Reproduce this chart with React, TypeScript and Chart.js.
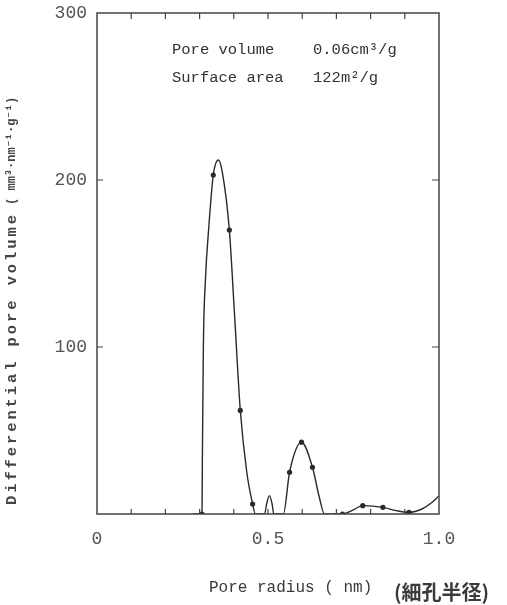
import React, { useEffect, useRef } from "react";
import { Chart, registerables } from "chart.js";

Chart.register(...registerables);

const poreRadius = [0.28, 0.307, 0.308, 0.311, 0.317, 0.327, 0.34, 0.355, 0.367, 0.387, 0.402, 0.419, 0.438, 0.455, 0.463, 0.49, 0.496, 0.504, 0.512, 0.517, 0.545, 0.563, 0.598, 0.63, 0.65, 0.665, 0.718, 0.745, 0.777, 0.836, 0.875, 0.912, 0.95, 0.98, 1.0];
const poreVolume = [0, 0, 30, 100, 140, 172, 203, 212, 204, 170, 120, 62, 25, 6, 0, 0, 6, 11, 6, 0, 0, 25, 43, 28, 10, 0, 0, 2, 5, 4, 2, 1, 3, 7, 11];
const isMarked = [0, 1, 0, 0, 0, 0, 1, 0, 0, 1, 0, 1, 0, 1, 0, 0, 0, 0, 0, 0, 0, 1, 1, 1, 0, 0, 1, 0, 1, 1, 0, 1, 0, 0, 0];

const xTickLabels = ["0", "0.5", "1.0"];
const yTickLabels = ["100", "200", "300"];
const infoLabels = ["Pore volume", "Surface area"];
const infoValues = ["0.06cm³/g", "122m²/g"];
const xTitle = "Pore radius ( nm)";
const xTitleJa = "(細孔半径)";
const yTitleMain = "Differential pore volume";
const yTitleUnit = " ( mm³·nm⁻¹·g⁻¹)";

const MONO = '"Liberation Mono", "DejaVu Sans Mono", monospace';
const INK = "#2a2a2a";

const framePlugin = {
  id: "frame",
  afterDraw(chart: any) {
    const { ctx, chartArea: a, scales } = chart;
    const xs = scales.x;
    const ys = scales.y;
    ctx.save();
    ctx.strokeStyle = "#444";
    ctx.lineWidth = 1.5;
    ctx.strokeRect(a.left, a.top, a.right - a.left, a.bottom - a.top);
    ctx.lineWidth = 1.2;
    for (let i = 1; i < 10; i++) {
      const px = xs.getPixelForValue(i / 10);
      ctx.beginPath();
      ctx.moveTo(px, a.bottom);
      ctx.lineTo(px, a.bottom - 5);
      ctx.moveTo(px, a.top);
      ctx.lineTo(px, a.top + 6);
      ctx.stroke();
    }
    [100, 200].forEach((v) => {
      const py = ys.getPixelForValue(v);
      ctx.beginPath();
      ctx.moveTo(a.left, py);
      ctx.lineTo(a.left + 6, py);
      ctx.moveTo(a.right, py);
      ctx.lineTo(a.right - 7, py);
      ctx.stroke();
    });
    ctx.fillStyle = "#333";
    ctx.font = `15.5px ${MONO}`;
    ctx.textBaseline = "middle";
    ctx.textAlign = "left";
    infoLabels.forEach((t, i) => {
      ctx.fillText(t, 172, 50 + i * 28);
      ctx.fillText(infoValues[i], 313, 50 + i * 28);
    });
    ctx.fillStyle = "#3a3a3a";
    ctx.font = `16px ${MONO}`;
    ctx.fillText(xTitle, 209, 588);
    ctx.font = `bold 20px "Noto Sans CJK JP", sans-serif`;
    ctx.fillText(xTitleJa, 394, 592);
    ctx.save();
    ctx.translate(12, 505);
    ctx.rotate(-Math.PI / 2);
    ctx.textAlign = "left";
    ctx.fillStyle = "#444";
    ctx.font = `bold 15.5px ${MONO}`;
    (ctx as any).letterSpacing = "2.9px";
    ctx.fillText(yTitleMain, 0, 0);
    const w = ctx.measureText(yTitleMain).width;
    ctx.font = `bold 12px ${MONO}`;
    (ctx as any).letterSpacing = "0px";
    ctx.fillText(yTitleUnit, w, 0);
    ctx.restore();
    ctx.restore();
  },
};

export default function App() {
  const ref = useRef<HTMLCanvasElement | null>(null);
  useEffect(() => {
    if (!ref.current) return;
    const chart = new Chart(ref.current, {
      type: "line",
      data: {
        datasets: [
          {
            data: poreRadius.map((x, i) => ({ x, y: poreVolume[i] })),
            borderColor: INK,
            borderWidth: 1.4,
            pointRadius: isMarked.map((m) => (m ? 2.6 : 0)),
            pointBackgroundColor: INK,
            pointBorderColor: INK,
            pointBorderWidth: 0,
            cubicInterpolationMode: "monotone",
            fill: false,
          },
        ],
      },
      options: {
        animation: false,
        responsive: false,
        maintainAspectRatio: false,
        plugins: { legend: { display: false }, tooltip: { enabled: false } },
        layout: { padding: { top: 13, right: 68, left: 0, bottom: 0 } },
        scales: {
          x: {
            type: "linear",
            min: 0,
            max: 1,
            grid: { display: false },
            border: { display: false },
            afterFit: (s: any) => {
              s.height = 91;
            },
            afterBuildTicks: (s: any) => {
              s.ticks = xTickLabels.map((t) => ({ value: parseFloat(t) }));
            },
            ticks: {
              autoSkip: false,
              maxRotation: 0,
              padding: 6,
              color: "#555",
              font: { family: MONO, size: 18 },
              callback: (v: any) => xTickLabels.find((t) => parseFloat(t) === v) ?? "",
            },
          },
          y: {
            min: 0,
            max: 300,
            grid: { display: false },
            border: { display: false },
            afterFit: (s: any) => {
              s.width = 97;
            },
            afterBuildTicks: (s: any) => {
              s.ticks = yTickLabels.map((t) => ({ value: parseFloat(t) }));
            },
            ticks: {
              padding: 2,
              color: "#555",
              font: { family: MONO, size: 18 },
              callback: (v: any) => yTickLabels.find((t) => parseFloat(t) === v) ?? "",
            },
          },
        },
      },
      plugins: [framePlugin],
    } as any);
    return () => chart.destroy();
  }, []);
  return (
    <div style={{ position: "fixed", left: 0, top: 0, width: 507, height: 605, background: "#fff" }}>
      <canvas ref={ref} width={507} height={605} style={{ width: 507, height: 605 }} />
    </div>
  );
}
